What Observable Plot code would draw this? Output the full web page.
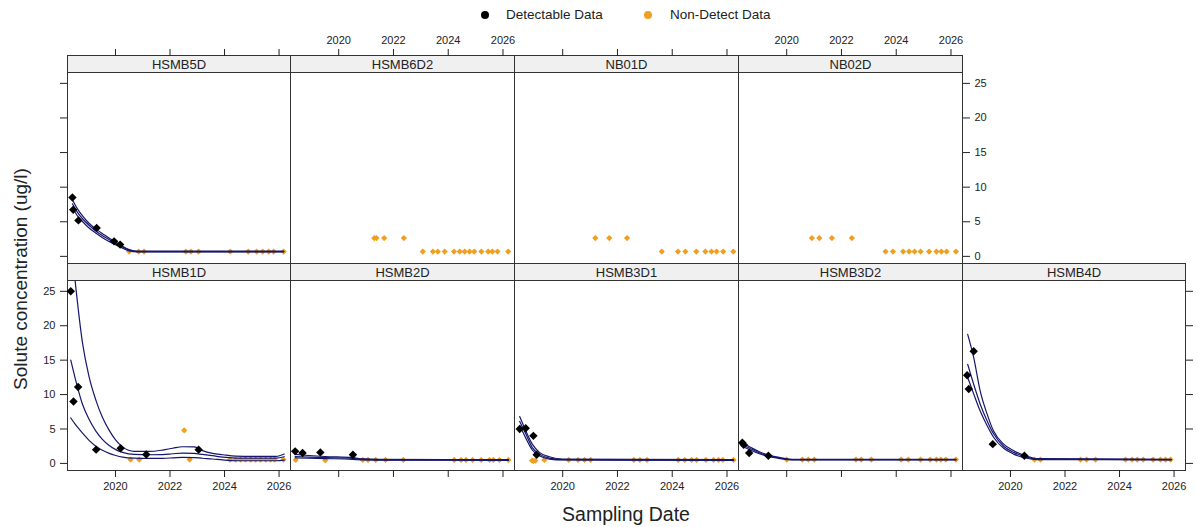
<!DOCTYPE html>
<html>
<head>
<meta charset="utf-8">
<script src="https://cdn.jsdelivr.net/npm/d3@7"></script>
<script src="https://cdn.jsdelivr.net/npm/@observablehq/plot@0.6"></script>
<style>
  body { margin: 0; background: #fff; }
  #chart { position: relative; width: 1198px; height: 527px; overflow: hidden;
           font-family: Arial, "Liberation Sans", sans-serif; color: #222; background: #fff; }
  .panel { position: absolute; }
  .legend-item { position: absolute; top: 6px; font-size: 13.5px; line-height: 18px;
                 display: flex; align-items: center; white-space: nowrap; }
  .swatch { display: inline-block; width: 8px; height: 8px; border-radius: 50%; }
  .title { position: absolute; white-space: nowrap; line-height: 1; }
</style>
</head>
<body>
<div id="chart">
  <div class="legend-item" style="left:481px"><span class="swatch" style="background:#000;margin-right:17px"></span>Detectable Data</div>
  <div class="legend-item" style="left:644px"><span class="swatch" style="background:#F0A020;margin-right:18px"></span>Non-Detect Data</div>
  <div class="title" style="left:20px;top:279px;font-size:19px;transform:translate(-50%,-50%) rotate(-90deg)">Solute concentration (ug/l)</div>
  <div class="title" style="left:626px;top:515px;font-size:19.5px;transform:translate(-50%,-50%)">Sampling Date</div>
</div>
<script>
// Shared scales for every well panel
const X_DOMAIN = [2018.24, 2026.42];
const Y_DOMAIN = [-1.03, 26.57];
const X_TICKS = [2020, 2022, 2024, 2026];
const Y_TICKS = [0, 5, 10, 15, 20, 25];

// Samples: [decimal year, concentration ug/l]
const HSMB1D_detect = [[2018.36, 25.0], [2018.46, 9.0], [2018.63, 11.1], [2019.29, 2.0], [2020.19, 2.2], [2021.13, 1.3], [2023.05, 2.0]];
const HSMB1D_nondetect = [[2020.55, 0.55], [2020.87, 0.55], [2022.52, 4.8], [2022.72, 0.55], [2024.20, 0.55], [2024.41, 0.55], [2024.59, 0.55], [2024.77, 0.55], [2024.96, 0.55], [2025.14, 0.55], [2025.32, 0.55], [2025.51, 0.55], [2025.69, 0.55], [2025.84, 0.55], [2026.16, 0.55]];
// Trend fit: [decimal year, lower bound, fit, upper bound]
const HSMB1D_fit = [
  [2018.36, 6.6, 15.0, null], [2018.52, 5.7, 12.4, 26.5], [2018.79, 4.4, 8.6, 17.5], [2019.03, 3.35, 6.4, 12.6],
  [2019.28, 2.5, 4.7, 9.2], [2019.52, 1.9, 3.5, 6.7], [2019.77, 1.45, 2.6, 4.8], [2020.01, 1.15, 2.0, 3.4],
  [2020.26, 0.92, 1.6, 2.4], [2020.69, 0.76, 1.3, 1.75], [2021.24, 0.72, 1.26, 1.74], [2021.73, 0.74, 1.28, 1.94],
  [2022.10, 0.8, 1.4, 2.2], [2022.46, 0.87, 1.5, 2.42], [2022.89, 0.85, 1.45, 2.4], [2023.19, 0.75, 1.3, 1.85],
  [2023.56, 0.64, 1.12, 1.45], [2023.93, 0.5, 0.9, 1.26], [2024.41, 0.39, 0.78, 1.05], [2025.00, 0.39, 0.78, 1.01],
  [2025.89, 0.39, 0.78, 1.01], [2026.19, 0.48, 0.97, 1.36]
];

const HSMB2D_detect = [[2018.41, 1.75], [2018.68, 1.5], [2019.33, 1.6], [2020.52, 1.26]];
const HSMB2D_nondetect = [[2018.43, 0.5], [2019.51, 0.45], [2020.88, 0.5], [2021.07, 0.5], [2021.35, 0.5], [2021.71, 0.5], [2022.36, 0.5], [2024.22, 0.5], [2024.47, 0.5], [2024.65, 0.5], [2024.89, 0.5], [2025.20, 0.5], [2025.51, 0.5], [2025.65, 0.5], [2025.87, 0.5], [2026.20, 0.5]];
const HSMB2D_fit = [
  [2018.41, 0.8, 1.0, 1.3], [2018.90, 0.75, 0.92, 1.15], [2019.50, 0.7, 0.85, 1.0], [2020.50, 0.6, 0.72, 0.85],
  [2020.90, 0.5, 0.58, 0.65], [2021.50, 0.48, 0.52, 0.58], [2026.20, 0.45, 0.5, 0.55]
];

const HSMB3D1_detect = [[2018.43, 5.0], [2018.65, 5.1], [2018.93, 4.0], [2019.05, 1.25]];
const HSMB3D1_nondetect = [[2018.88, 0.4], [2018.93, 0.35], [2019.00, 0.4], [2019.33, 0.5], [2020.22, 0.5], [2020.56, 0.5], [2020.80, 0.5], [2021.02, 0.5], [2022.60, 0.5], [2022.82, 0.5], [2023.08, 0.5], [2024.22, 0.5], [2024.46, 0.5], [2024.71, 0.5], [2024.89, 0.5], [2025.23, 0.5], [2025.51, 0.5], [2025.69, 0.5], [2025.85, 0.5], [2026.24, 0.5]];
const HSMB3D1_fit = [
  [2018.43, 5.5, 6.1, 6.8], [2018.65, 3.7, 4.3, 4.75], [2018.89, 1.95, 2.3, 2.8], [2019.15, 1.1, 1.35, 1.6],
  [2019.51, 0.63, 0.77, 0.97], [2020.00, 0.5, 0.55, 0.62], [2026.24, 0.45, 0.5, 0.55]
];

const HSMB3D2_detect = [[2018.38, 3.0], [2018.43, 2.7], [2018.63, 1.5], [2019.33, 1.1]];
const HSMB3D2_nondetect = [[2020.00, 0.55], [2020.57, 0.55], [2020.79, 0.55], [2021.01, 0.55], [2022.53, 0.55], [2022.72, 0.55], [2023.09, 0.55], [2024.18, 0.55], [2024.44, 0.55], [2024.89, 0.55], [2025.24, 0.55], [2025.47, 0.55], [2025.63, 0.55], [2025.81, 0.55], [2026.18, 0.55]];
const HSMB3D2_fit = [
  [2018.38, 2.5, 2.75, 3.0], [2018.70, 1.9, 2.1, 2.3], [2019.00, 1.4, 1.55, 1.7], [2019.33, 1.0, 1.1, 1.2],
  [2019.76, 0.7, 0.78, 0.85], [2020.20, 0.52, 0.56, 0.6], [2026.18, 0.5, 0.55, 0.58]
];

const HSMB4D_detect = [[2018.41, 12.8], [2018.47, 10.8], [2018.65, 16.3], [2019.35, 2.8], [2020.51, 1.1]];
const HSMB4D_nondetect = [[2020.88, 0.55], [2021.10, 0.55], [2022.57, 0.55], [2022.79, 0.55], [2023.12, 0.55], [2024.22, 0.55], [2024.46, 0.55], [2024.65, 0.55], [2024.87, 0.55], [2025.23, 0.55], [2025.50, 0.55], [2025.69, 0.55], [2025.87, 0.55]];
const HSMB4D_fit = [
  [2018.43, 12.5, 14.4, 18.75], [2018.65, 10.1, 11.5, 15.4], [2018.89, 7.6, 8.6, 10.5], [2019.14, 5.5, 6.2, 7.2],
  [2019.38, 3.8, 4.3, 4.7], [2019.75, 2.2, 2.5, 2.8], [2020.12, 1.35, 1.6, 1.85], [2020.55, 0.78, 0.97, 1.12],
  [2021.00, 0.55, 0.62, 0.7], [2025.90, 0.52, 0.56, 0.6]
];

const HSMB5D_detect = [[2018.42, 8.5], [2018.45, 6.75], [2018.64, 5.2], [2019.31, 4.1], [2019.95, 2.17], [2020.17, 1.7]];
const HSMB5D_nondetect = [[2020.50, 0.7], [2020.85, 0.7], [2021.05, 0.7], [2022.58, 0.7], [2022.77, 0.7], [2023.05, 0.7], [2024.21, 0.7], [2024.87, 0.7], [2025.18, 0.7], [2025.40, 0.7], [2025.62, 0.7], [2025.80, 0.7], [2026.17, 0.7]];
const HSMB5D_fit = [
  [2018.42, 7.0, 7.6, 8.2], [2018.60, 5.9, 6.4, 6.9], [2018.80, 5.0, 5.4, 5.8], [2019.00, 4.2, 4.6, 4.9],
  [2019.30, 3.3, 3.6, 3.9], [2019.60, 2.5, 2.8, 3.1], [2019.95, 1.8, 2.0, 2.2], [2020.20, 1.3, 1.45, 1.6],
  [2020.50, 0.8, 0.9, 1.0], [2020.80, 0.65, 0.7, 0.75], [2026.17, 0.65, 0.7, 0.75]
];

const HSMB6D2_nondetect = [[2021.30, 2.65], [2021.38, 2.65], [2021.66, 2.65], [2022.38, 2.65], [2023.07, 0.7], [2023.44, 0.7], [2023.62, 0.7], [2023.87, 0.7], [2024.21, 0.7], [2024.42, 0.7], [2024.60, 0.7], [2024.78, 0.7], [2024.95, 0.7], [2025.21, 0.7], [2025.46, 0.7], [2025.61, 0.7], [2025.80, 0.7], [2026.19, 0.7]];
const NB01D_nondetect = [[2021.19, 2.65], [2021.70, 2.65], [2022.35, 2.65], [2023.62, 0.7], [2024.21, 0.7], [2024.48, 0.7], [2024.88, 0.7], [2025.21, 0.7], [2025.43, 0.7], [2025.62, 0.7], [2025.86, 0.7], [2026.23, 0.7]];
const NB02D_nondetect = [[2020.92, 2.65], [2021.19, 2.65], [2021.65, 2.65], [2022.38, 2.65], [2023.61, 0.7], [2023.88, 0.7], [2024.25, 0.7], [2024.47, 0.7], [2024.67, 0.7], [2024.89, 0.7], [2025.20, 0.7], [2025.47, 0.7], [2025.65, 0.7], [2025.84, 0.7], [2026.18, 0.7]];

const DETECT_COLOR = "#000000";
const NONDETECT_COLOR = "#F0A020";
const FIT_COLOR = "#16166E";

// Panel grid (lattice order: bottom row first, then top row)
const panels = [
  {name: "HSMB1D", row: "bottom", col: 0, detect: HSMB1D_detect, nondetect: HSMB1D_nondetect, fit: HSMB1D_fit},
  {name: "HSMB2D", row: "bottom", col: 1, detect: HSMB2D_detect, nondetect: HSMB2D_nondetect, fit: HSMB2D_fit},
  {name: "HSMB3D1", row: "bottom", col: 2, detect: HSMB3D1_detect, nondetect: HSMB3D1_nondetect, fit: HSMB3D1_fit},
  {name: "HSMB3D2", row: "bottom", col: 3, detect: HSMB3D2_detect, nondetect: HSMB3D2_nondetect, fit: HSMB3D2_fit},
  {name: "HSMB4D", row: "bottom", col: 4, detect: HSMB4D_detect, nondetect: HSMB4D_nondetect, fit: HSMB4D_fit},
  {name: "HSMB5D", row: "top", col: 0, detect: HSMB5D_detect, nondetect: HSMB5D_nondetect, fit: HSMB5D_fit},
  {name: "HSMB6D2", row: "top", col: 1, detect: [], nondetect: HSMB6D2_nondetect, fit: []},
  {name: "NB01D", row: "top", col: 2, detect: [], nondetect: NB01D_nondetect, fit: []},
  {name: "NB02D", row: "top", col: 3, detect: [], nondetect: NB02D_nondetect, fit: []}
];

// Page layout of the panel grid
const COL_X = [67, 290, 514, 738, 962, 1185];
const ROW_TOP = {top: 72, bottom: 280};
const ROW_H = {top: 191, bottom: 190};
const STRIP_H = 17;
const M = {top: 28, right: 40, bottom: 30, left: 40};
const LAST_COL = {top: 3, bottom: 4};

const chart = document.getElementById("chart");

for (const p of panels) {
  const x0 = COL_X[p.col];
  const w = COL_X[p.col + 1] - x0;
  const h = ROW_H[p.row];
  const width = M.left + w + M.right;
  const height = M.top + STRIP_H + h + M.bottom;

  // alternating axis labels, lattice style
  const xLabeled = p.row === "bottom" ? p.col % 2 === 0 : p.col % 2 === 1;
  const marks = [
    Plot.frame({insetBottom: h, fill: "#f0f0f0", stroke: "#333"}),
    Plot.frame({insetTop: STRIP_H, stroke: "#333"}),
    Plot.text([p.name], {text: d => d, frameAnchor: "top", lineAnchor: "middle", dy: STRIP_H / 2 + 0.5, fontSize: 13, fill: "#222"}),
    Plot.axisX({
      anchor: p.row === "bottom" ? "bottom" : "top",
      ticks: X_TICKS, tickSize: 7, tickPadding: 5, fontSize: 11, label: null,
      tickFormat: xLabeled ? d => String(d) : () => ""
    })
  ];
  if (p.col === 0) {
    marks.push(Plot.axisY({
      anchor: "left", ticks: Y_TICKS, tickSize: 7, tickPadding: 5, fontSize: 11, label: null,
      tickFormat: p.row === "bottom" ? d => String(d) : () => ""
    }));
  }
  if (p.col === LAST_COL[p.row]) {
    marks.push(Plot.axisY({
      anchor: "right", ticks: Y_TICKS, tickSize: 7, tickPadding: 5, fontSize: 11, label: null,
      tickFormat: p.row === "top" ? d => String(d) : () => ""
    }));
  }
  marks.push(Plot.dot(p.nondetect, {x: d => d[0], y: d => d[1], symbol: "diamond2", r: 2.8, fill: NONDETECT_COLOR}));
  for (const k of [1, 2, 3]) {
    marks.push(Plot.line(p.fit, {x: d => d[0], y: d => d[k], stroke: FIT_COLOR, strokeWidth: 1.2, curve: "monotone-x"}));
  }
  marks.push(Plot.dot(p.detect, {x: d => d[0], y: d => d[1], symbol: "diamond2", r: 3.8, fill: DETECT_COLOR}));

  const svg = Plot.plot({
    width, height,
    marginTop: M.top, marginRight: M.right, marginBottom: M.bottom, marginLeft: M.left,
    x: {domain: X_DOMAIN, axis: null},
    y: {domain: Y_DOMAIN, range: [M.top + STRIP_H + h, M.top + STRIP_H], axis: null},
    style: {background: "transparent", overflow: "visible", color: "#222",
            fontFamily: "Arial, 'Liberation Sans', sans-serif", fontSize: "11px"},
    marks
  });

  const holder = document.createElement("div");
  holder.className = "panel";
  holder.style.left = (x0 - M.left) + "px";
  holder.style.top = (ROW_TOP[p.row] - STRIP_H - M.top) + "px";
  holder.style.width = width + "px";
  holder.style.height = height + "px";
  holder.appendChild(svg);
  chart.appendChild(holder);
}
</script>
</body>
</html>
